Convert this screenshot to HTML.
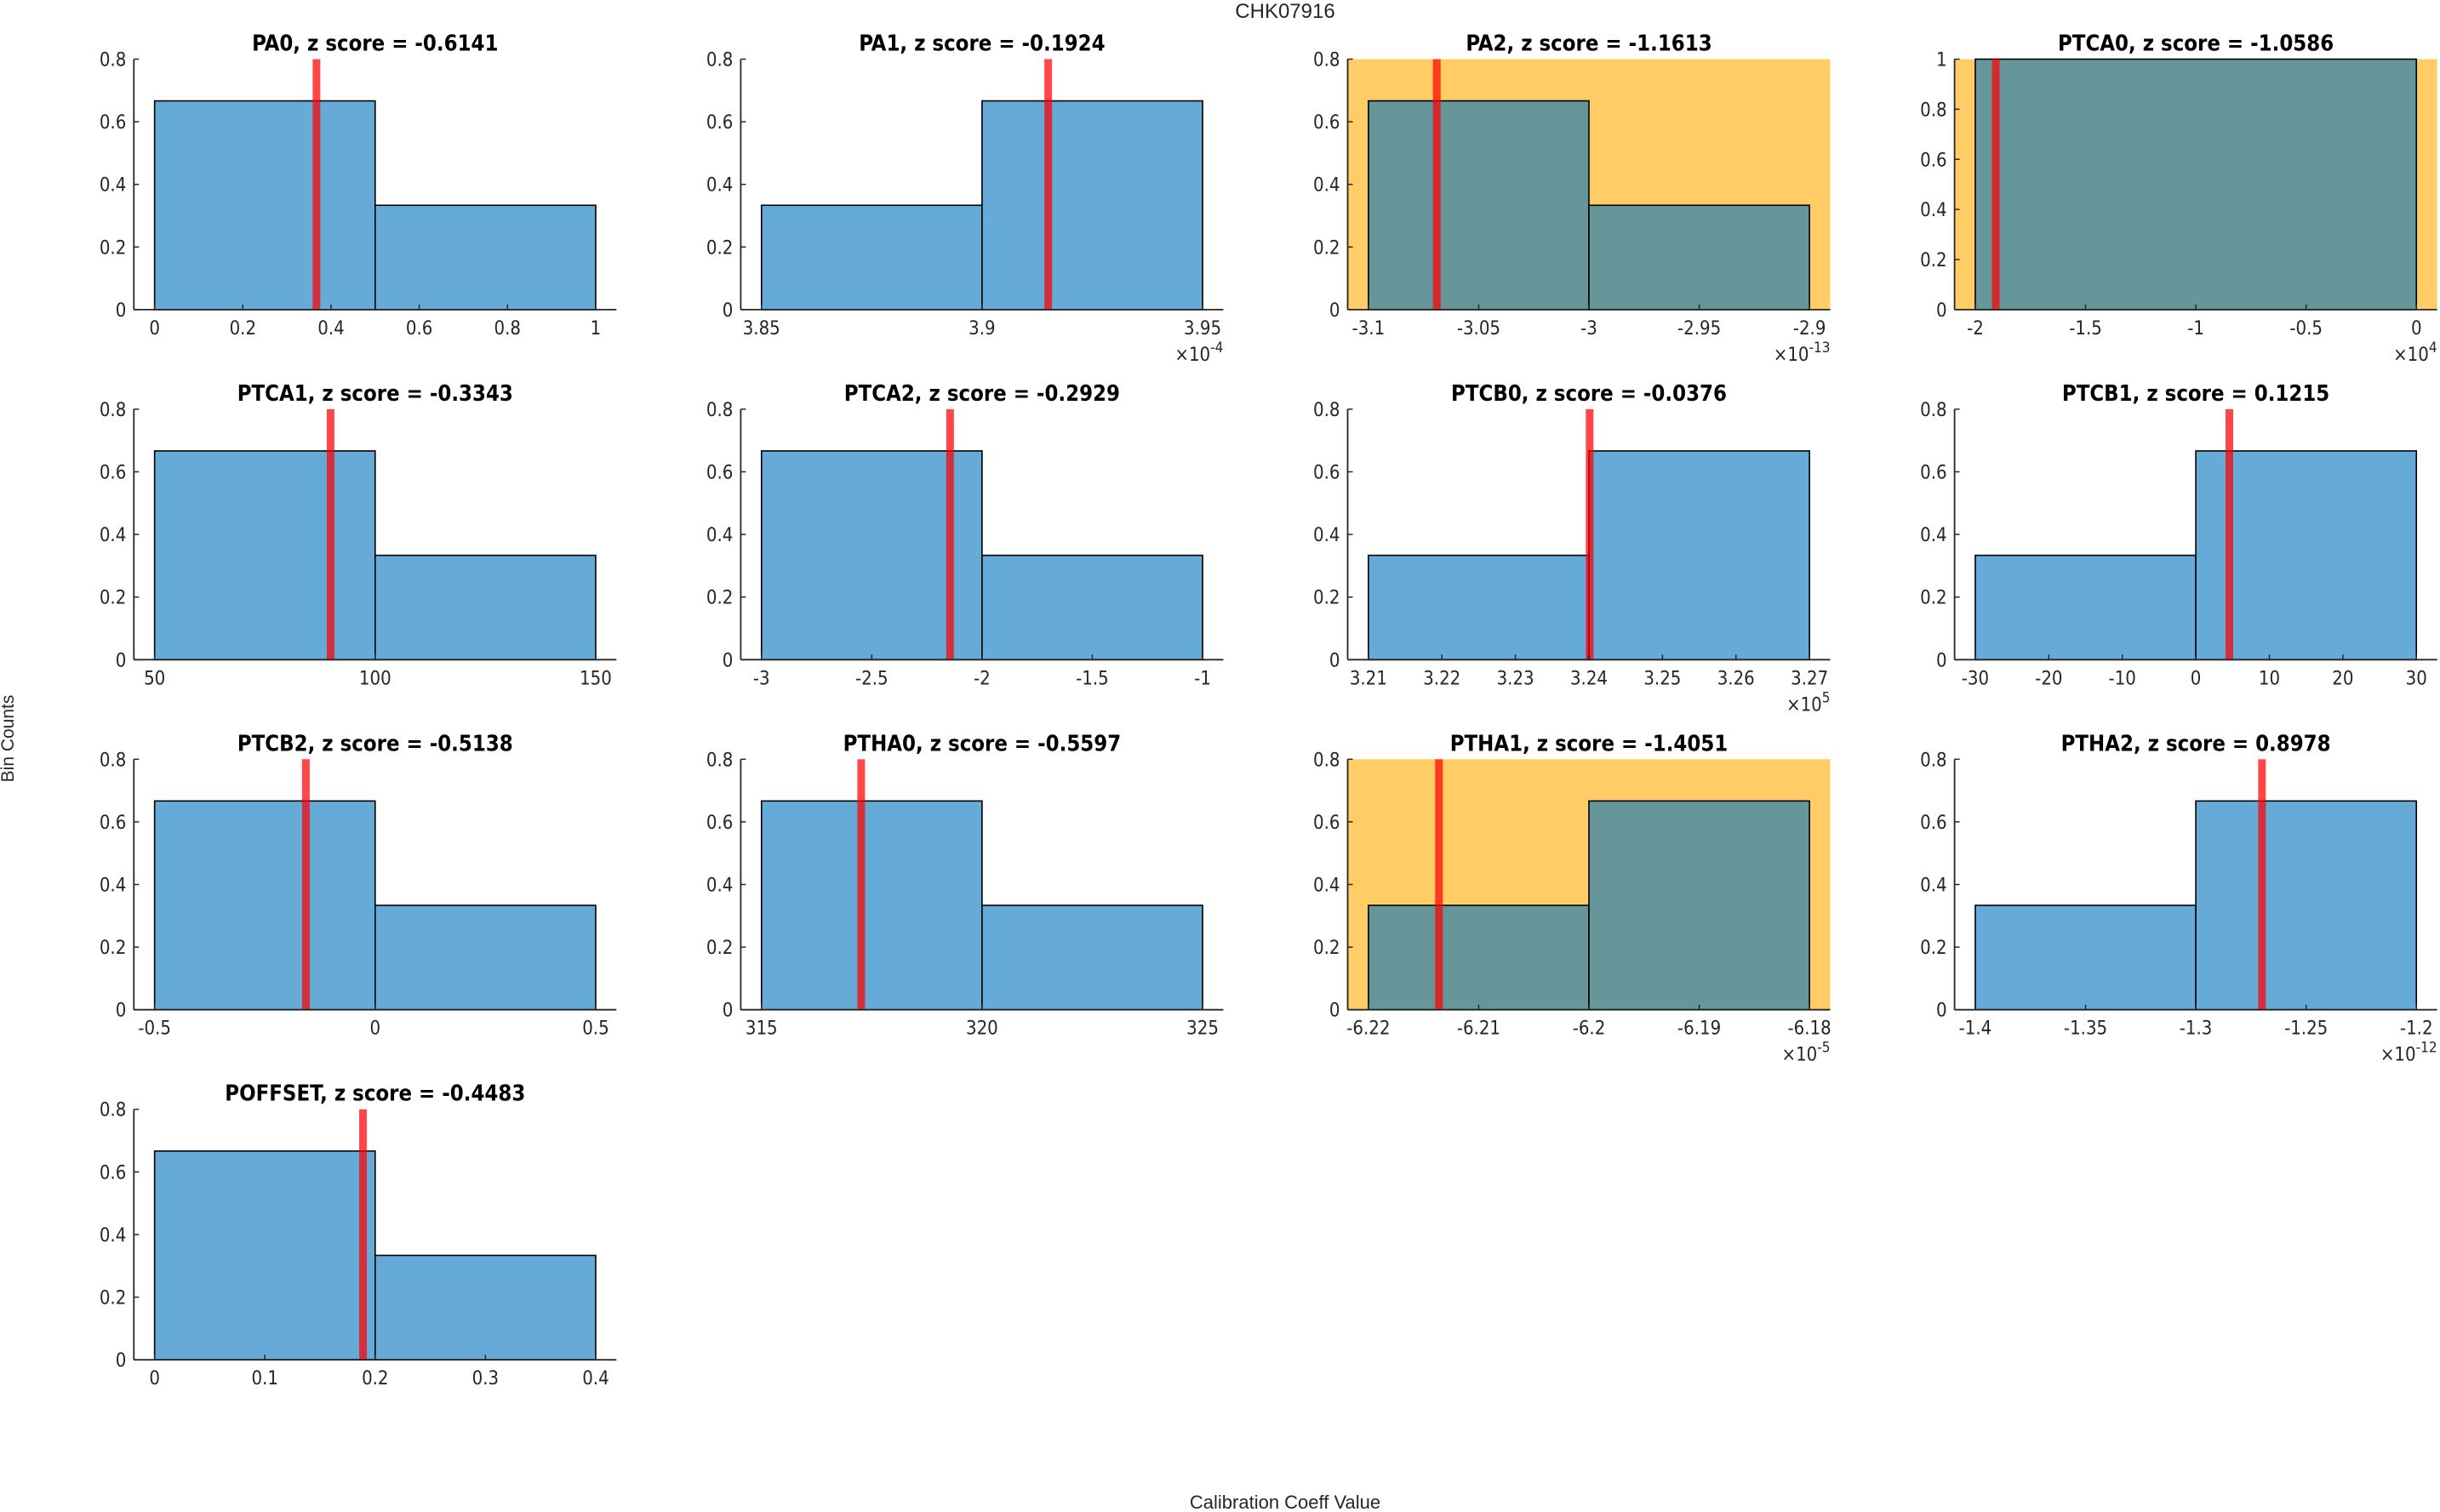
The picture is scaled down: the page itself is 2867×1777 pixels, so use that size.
<!DOCTYPE html>
<html><head><meta charset="utf-8"><style>
html,body{margin:0;padding:0;background:#fff;}
svg{display:block;font-family:"DejaVu Sans Condensed","DejaVu Sans","Liberation Sans",sans-serif;}
</style></head><body>
<svg id="fig" width="2867" height="1777" viewBox="0 0 2867 1777" xmlns="http://www.w3.org/2000/svg">
<text x="1510" y="21" font-size="24" text-anchor="middle" fill="#262626" font-family="Liberation Sans, sans-serif">CHK07916</text>
<text transform="translate(16,868) rotate(-90)" font-size="21" text-anchor="middle" fill="#262626" font-family="Liberation Sans, sans-serif">Bin Counts</text>
<text x="1510" y="1773" font-size="22" text-anchor="middle" fill="#262626" font-family="Liberation Sans, sans-serif">Calibration Coeff Value</text>
</svg>
<script>
const names = ["PA0","PA1","PA2","PTCA0","PTCA1","PTCA2","PTCB0","PTCB1","PTCB2","PTHA0","PTHA1","PTHA2","POFFSET"];
const zscores = ["-0.6141","-0.1924","-1.1613","-1.0586","-0.3343","-0.2929","-0.0376","0.1215","-0.5138","-0.5597","-1.4051","0.8978","-0.4483"];
const binEdges = [[0,0.5,1],[3.85,3.9,3.95],[-3.1,-3,-2.9],[-2,0],[50,100,150],[-3,-2,-1],[3.21,3.24,3.27],[-30,0,30],[-0.5,0,0.5],[315,320,325],[-6.22,-6.2,-6.18],[-1.4,-1.3,-1.2],[0,0.2,0.4]];
const binValues = [[0.6667,0.3333],[0.3333,0.6667],[0.6667,0.3333],[1],[0.6667,0.3333],[0.6667,0.3333],[0.3333,0.6667],[0.3333,0.6667],[0.6667,0.3333],[0.6667,0.3333],[0.3333,0.6667],[0.3333,0.6667],[0.6667,0.3333]];
const markerValues = [0.367,3.915,-3.069,-1.907,89.9,-2.145,3.2401,4.56,-0.157,317.26,-6.2136,-1.27,0.189];
const xTicks = [[0,0.2,0.4,0.6,0.8,1],[3.85,3.9,3.95],[-3.1,-3.05,-3,-2.95,-2.9],[-2,-1.5,-1,-0.5,0],[50,100,150],[-3,-2.5,-2,-1.5,-1],[3.21,3.22,3.23,3.24,3.25,3.26,3.27],[-30,-20,-10,0,10,20,30],[-0.5,0,0.5],[315,320,325],[-6.22,-6.21,-6.2,-6.19,-6.18],[-1.4,-1.35,-1.3,-1.25,-1.2],[0,0.1,0.2,0.3,0.4]];
const exponents = [null,"-4","-13","4",null,null,"5",null,null,null,"-5","-12",null];
const flagged = [false,false,true,true,false,false,false,false,false,false,true,false,false];
const yMax = [0.8,0.8,0.8,1,0.8,0.8,0.8,0.8,0.8,0.8,0.8,0.8,0.8];

const svg = document.getElementById('fig');
const NS = "http://www.w3.org/2000/svg";
const colX = [157.3, 870.4, 1583.5, 2296.6], rowY = [69.5, 480.9, 892.3, 1303.7];
const W = 567, H = 294.4;
function mk(tag, attrs, parent){const e=document.createElementNS(NS,tag);for(const k in attrs)e.setAttribute(k,attrs[k]);(parent||svg).appendChild(e);return e;}
function fmt(v){return String(+v.toFixed(4));}

names.forEach((nm, i) => {
  const ax0 = colX[i%4], ay0 = rowY[Math.floor(i/4)];
  const g = mk('g', {});
  
  
  const e = binEdges[i];
  const lo = e[0], hi = e[e.length-1], pad = (hi-lo)*0.047;
  const xmin = lo-pad, xmax = hi+pad;
  const sx = v => ax0 + (v-xmin)/(xmax-xmin)*W;
  const sy = v => ay0 + H - v/yMax[i]*H;
  if (flagged[i]) {
    const bg = mk('rect', {x:ax0, y:ay0, width:W, height:H, fill:'#ffcc66'}, g);
    
    
  }
  binValues[i].forEach((v, j) => {
    const r = mk('rect', {x:sx(e[j]), y:sy(v), width:sx(e[j+1])-sx(e[j]), height:sy(0)-sy(v),
      fill: flagged[i] ? '#66969a' : '#66aad7', stroke:'#000', 'stroke-width':1.6}, g);
    
    
  });
  const ml = mk('rect', {x:sx(markerValues[i])-4.5, y:ay0, width:9, height:H, fill:'#ff0000', 'fill-opacity':0.72}, g);
  
  
  mk('line', {x1:ax0, y1:ay0+H, x2:ax0+W, y2:ay0+H, stroke:'#262626', 'stroke-width':1.8}, g);
  mk('line', {x1:ax0, y1:ay0, x2:ax0, y2:ay0+H, stroke:'#262626', 'stroke-width':1.8}, g);
  xTicks[i].forEach(t => {
    const x = sx(t);
    mk('line', {x1:x, y1:ay0+H, x2:x, y2:ay0+H-6, stroke:'#262626', 'stroke-width':1.5}, g);
    const tl = mk('text', {x:x, y:ay0+H+29, 'font-size':22, 'text-anchor':'middle', fill:'#262626'}, g);
    tl.textContent = fmt(t);
    
    
  });
  for (let k = 0; k <= Math.round(yMax[i]/0.2); k++) {
    const v = k*0.2, y = sy(v);
    mk('line', {x1:ax0, y1:y, x2:ax0+6, y2:y, stroke:'#262626', 'stroke-width':1.5}, g);
    const yl = mk('text', {x:ax0-9, y:y+8, 'font-size':22, 'text-anchor':'end', fill:'#262626'}, g);
    yl.textContent = fmt(v);
    
    
  }
  if (exponents[i]) {
    const ex = mk('text', {x:ax0+W, y:ay0+H+60, 'font-size':22, 'text-anchor':'end', fill:'#262626'}, g);
    ex.innerHTML = '×10<tspan dy="-10" font-size="17">' + exponents[i] + '</tspan>';
    
    
  }
  const ti = mk('text', {x:ax0+W/2, y:ay0-10, 'font-size':25.5, 'font-weight':'bold', 'text-anchor':'middle', fill:'#000'}, g);
  ti.textContent = nm + ', z score = ' + zscores[i];
  
  
});
</script>
</body></html>
